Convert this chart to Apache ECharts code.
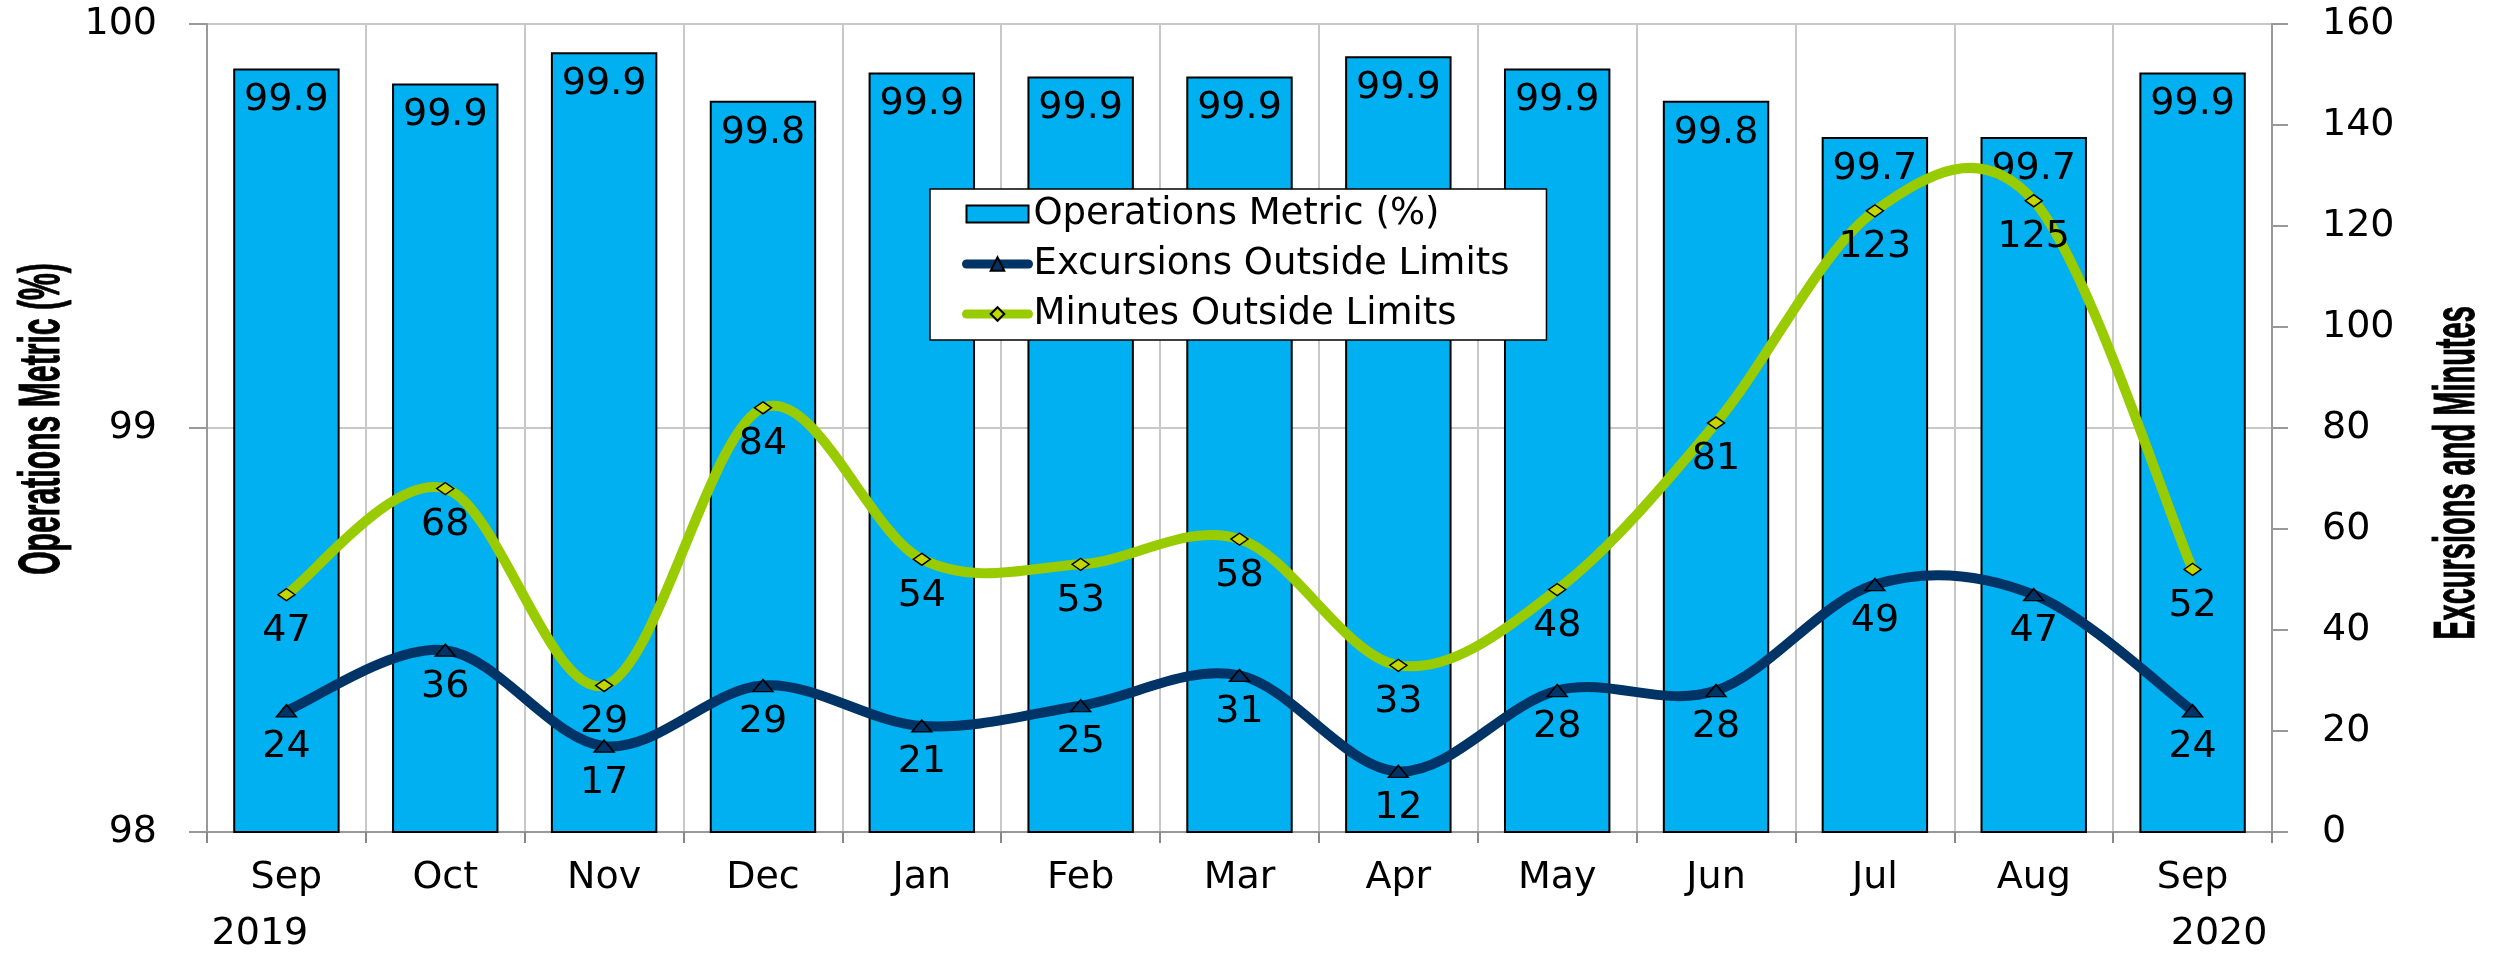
<!DOCTYPE html>
<html><head><meta charset="utf-8">
<script src="https://cdn.jsdelivr.net/npm/echarts@6/dist/echarts.min.js"></script>
<style>html,body{margin:0;padding:0;background:#fff}#c{width:2493px;height:958px}</style>
</head><body><div id="c"></div>
<script>
const categories = ['Sep','Oct','Nov','Dec','Jan','Feb','Mar','Apr','May','Jun','Jul','Aug','Sep'];
const yearLabels = ['2019','','','','','','','','','','','','2020'];
const metricValues = [99.89, 99.853, 99.93, 99.81, 99.88, 99.87, 99.87, 99.92, 99.89, 99.81, 99.72, 99.72, 99.88];
const excursions = [24, 36, 17, 29, 21, 25, 31, 12, 28, 28, 49, 47, 24];
const minutes = [47, 68, 29, 84, 54, 53, 58, 33, 48, 81, 123, 125, 52];
const leftAxisRange = [98, 100, 1];
const rightAxisRange = [0, 160, 20];
const seriesNames = ['Operations Metric (%)', 'Excursions Outside Limits', 'Minutes Outside Limits'];
const axisTitles = ['Operations Metric (%)', 'Excursions and Minutes'];

const FF = 'DejaVu Sans';
const NAVY = '#003366', LIME = '#99CC00';
const chart = echarts.init(document.getElementById('c'), null, {renderer: 'canvas'});
const lastIdx = categories.length - 1;

// Excel-style (Catmull-Rom) smoothed curve drawn through the axis scales
function curveSeries(id, values, color, z) {
  const n = values.length;
  return {
    id: id, name: id, type: 'custom', yAxisIndex: 1, z: z, silent: true,
    data: values.map(function (v, i) { return [i, v]; }),
    renderItem: function (params, api) {
      const i = params.dataIndex;
      if (i >= n - 1) return null;
      const a = Math.max(i - 1, 0), d = Math.min(i + 2, n - 1);
      const P0 = api.coord([a, values[a]]);
      const P1 = api.coord([i, values[i]]);
      const P2 = api.coord([i + 1, values[i + 1]]);
      const P3 = api.coord([d, values[d]]);
      return {
        type: 'bezierCurve',
        shape: {
          x1: P1[0], y1: P1[1], x2: P2[0], y2: P2[1],
          cpx1: P1[0] + (P2[0] - P0[0]) / 6, cpy1: P1[1] + (P2[1] - P0[1]) / 6,
          cpx2: P2[0] - (P3[0] - P1[0]) / 6, cpy2: P2[1] - (P3[1] - P1[1]) / 6
        },
        style: {stroke: color, lineWidth: 10, fill: null, lineCap: 'round'}
      };
    }
  };
}

const option = {
  animation: false,
  backgroundColor: '#fff',
  grid: {left: 207, right: 221, top: 24, bottom: 126, containLabel: false},
  legend: {
    orient: 'vertical', left: 930, top: 189,
    padding: [5, 37, 6, 32], itemGap: 10, itemWidth: 62, itemHeight: 17,
    backgroundColor: '#fff', borderColor: '#000', borderWidth: 1.5, borderRadius: 0,
    textStyle: {fontSize: 37, fontFamily: FF, color: '#000', lineHeight: 40},
    lineStyle: {width: 9, opacity: 1, cap: 'round'},
    data: [{name: seriesNames[0], icon: 'rect'}, {name: seriesNames[1]}, {name: seriesNames[2]}]
  },
  graphic: [
    {type: 'text', x: 43, y: 419, rotation: Math.PI / 2, scaleX: 0.52, scaleY: 1,
     style: {text: axisTitles[0], fontSize: 58, fontWeight: 'bold', fontFamily: 'Liberation Sans', fill: '#000', stroke: '#000', lineWidth: 1, align: 'center', verticalAlign: 'middle'}},
    {type: 'text', x: 2458, y: 473, rotation: Math.PI / 2, scaleX: 0.5, scaleY: 1,
     style: {text: axisTitles[1], fontSize: 58, fontWeight: 'bold', fontFamily: 'Liberation Sans', fill: '#000', stroke: '#000', lineWidth: 1, align: 'center', verticalAlign: 'middle'}}
  ],
  xAxis: {
    type: 'category', data: categories, boundaryGap: true,
    axisLine: {show: true, onZero: false, lineStyle: {color: '#999', width: 2}},
    axisTick: {show: true, length: 11, lineStyle: {color: '#888', width: 2}},
    splitLine: {show: true, lineStyle: {color: '#c8c8c8', width: 2}},
    axisLabel: {
      interval: 0, margin: 18, color: '#000', fontFamily: FF, fontSize: 38,
      formatter: function (v, i) {
        if (i === 0 && yearLabels[i]) return '{m|' + v + '}\n{yl|' + yearLabels[i] + '}';
        if (i === lastIdx && yearLabels[i]) return '{m|' + v + '}\n{yr|' + yearLabels[i] + '}';
        return '{m|' + v + '}';
      },
      rich: {
        m: {fontSize: 38, fontFamily: FF, color: '#000', lineHeight: 56, align: 'center'},
        yl: {fontSize: 38, fontFamily: FF, color: '#000', lineHeight: 56, align: 'center', padding: [0, 53, 0, 0]},
        yr: {fontSize: 38, fontFamily: FF, color: '#000', lineHeight: 56, align: 'center', padding: [0, 0, 0, 53]}
      }
    }
  },
  yAxis: [
    {
      type: 'value', position: 'left', min: leftAxisRange[0], max: leftAxisRange[1], interval: leftAxisRange[2],
      axisLine: {show: true, lineStyle: {color: '#999', width: 2}},
      axisTick: {show: true, length: 18, lineStyle: {color: '#999', width: 2}},
      splitLine: {show: true, lineStyle: {color: '#c8c8c8', width: 2}},
      axisLabel: {margin: 50, fontSize: 38, fontFamily: FF, color: '#000'}
    },
    {
      type: 'value', position: 'right', min: rightAxisRange[0], max: rightAxisRange[1], interval: rightAxisRange[2],
      axisLine: {show: true, lineStyle: {color: '#999', width: 2}},
      axisTick: {show: true, length: 16, lineStyle: {color: '#999', width: 2}},
      splitLine: {show: false},
      axisLabel: {margin: 50, fontSize: 38, fontFamily: FF, color: '#000'}
    }
  ],
  series: [
    {
      name: seriesNames[0], type: 'bar', yAxisIndex: 0, data: metricValues, barWidth: '67%',
      itemStyle: {color: '#00B0F0', borderColor: '#000', borderWidth: 2},
      label: {show: true, position: 'insideTop', distance: 13, fontSize: 38, fontFamily: FF, color: '#000',
        formatter: function (p) { return p.value.toFixed(1); }},
      z: 2
    },
    curveSeries('excursionsCurve', excursions, NAVY, 3),
    curveSeries('minutesCurve', minutes, LIME, 3),
    {
      name: seriesNames[1], type: 'line', yAxisIndex: 1, data: excursions, smooth: false,
      symbol: 'triangle', symbolSize: [20, 12], showAllSymbol: true,
      itemStyle: {color: NAVY, borderColor: '#000', borderWidth: 1.5},
      lineStyle: {color: NAVY, width: 10, opacity: 0},
      label: {show: true, position: 'bottom', distance: 11, fontSize: 38, fontFamily: FF, color: '#000'},
      z: 5
    },
    {
      name: seriesNames[2], type: 'line', yAxisIndex: 1, data: minutes, smooth: false,
      symbol: 'diamond', symbolSize: [17, 12], showAllSymbol: true,
      itemStyle: {color: '#C4D600', borderColor: '#000', borderWidth: 1.5},
      lineStyle: {color: LIME, width: 10, opacity: 0},
      label: {show: true, position: 'bottom', distance: 11, fontSize: 38, fontFamily: FF, color: '#000'},
      z: 5
    }
  ]
};
chart.setOption(option);
</script></body></html>
